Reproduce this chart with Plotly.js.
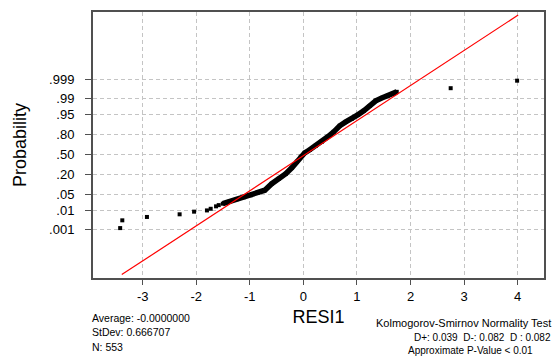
<!DOCTYPE html>
<html>
<head>
<meta charset="utf-8">
<script src="https://cdn.plot.ly/plotly-3.0.1.min.js"></script>
<style>
  html, body { margin: 0; padding: 0; background: #ffffff; }
  #chart { width: 560px; height: 356px; }
</style>
</head>
<body>
<div id="chart"></div>
<script>
// ---- Data ----
// isolated points in the tails (residual, cumulative probability)
const tailResid = [-3.42, -3.38, -2.92, -2.31, -2.04, -1.80, -1.73, -1.63, -1.58, 2.75, 3.99];
const tailProb  = [0.00114, 0.00317, 0.00480, 0.00657, 0.00889, 0.0102, 0.0122, 0.0158, 0.0179, 0.9970, 0.99889];

// dense body of the probability plot
const bodyResid = [-1.504, -1.373, -1.243, -1.112, -0.981, -0.851, -0.720, -0.590, -0.459, -0.328,
                   -0.216, -0.123, -0.049, 0.026, 0.119, 0.231, 0.343, 0.455, 0.567, 0.679,
                   0.791, 0.903, 1.015, 1.127, 1.239, 1.351, 1.463, 1.575, 1.668, 1.743];
const bodyProb  = [0.0207, 0.0264, 0.0319, 0.0382, 0.0456, 0.0565, 0.0692, 0.1126, 0.1572, 0.2121,
                   0.2909, 0.3813, 0.4621, 0.528, 0.577, 0.641, 0.700, 0.768, 0.826, 0.883,
                   0.912, 0.930, 0.950, 0.965, 0.978, 0.987, 0.9905, 0.9925, 0.9940, 0.9953];

// fitted normal reference line: residual endpoints and their normal scores
const lineResid = [-3.39, 4.01];
const lineScore = [-4.98, 5.78];

// probability axis ticks
const probTicks = [0.001, 0.01, 0.05, 0.20, 0.50, 0.80, 0.95, 0.99, 0.999];
const probTickText = ['.001', '.01', '.05', '.20', '.50', '.80', '.95', '.99', '.999'];
const xTicks = [-3, -2, -1, 0, 1, 2, 3, 4];

// summary texts
const statsLeft = ['Average: -0.0000000', 'StDev: 0.666707', 'N: 553'];
const ksTitle = 'Kolmogorov-Smirnov Normality Test';
const ksValues = 'D+: 0.039\u00A0\u00A0D-: 0.082\u00A0\u00A0D : 0.082';
const ksP = 'Approximate P-Value < 0.01';

// ---- normal probability scale (inverse normal CDF, Acklam) ----
function invNorm(p) {
  const a = [-3.969683028665376e+01, 2.209460984245205e+02, -2.759285104469687e+02,
             1.383577518672690e+02, -3.066479806614716e+01, 2.506628277459239e+00];
  const b = [-5.447609879822406e+01, 1.615858368580409e+02, -1.556989798598866e+02,
             6.680131188771972e+01, -1.328068155288572e+01];
  const c = [-7.784894002430293e-03, -3.223964580411365e-01, -2.400758277161838e+00,
             -2.549671010229583e+00, 4.374664141464968e+00, 2.938163982698783e+00];
  const d = [7.784695709041462e-03, 3.224671290700398e-01, 2.445134137142996e+00,
             3.754408661907416e+00];
  const pl = 0.02425, ph = 1 - pl;
  let q, r;
  if (p < pl) {
    q = Math.sqrt(-2 * Math.log(p));
    return (((((c[0]*q+c[1])*q+c[2])*q+c[3])*q+c[4])*q+c[5]) /
           ((((d[0]*q+d[1])*q+d[2])*q+d[3])*q+1);
  } else if (p <= ph) {
    q = p - 0.5; r = q * q;
    return (((((a[0]*r+a[1])*r+a[2])*r+a[3])*r+a[4])*r+a[5])*q /
           (((((b[0]*r+b[1])*r+b[2])*r+b[3])*r+b[4])*r+1);
  } else {
    q = Math.sqrt(-2 * Math.log(1 - p));
    return -(((((c[0]*q+c[1])*q+c[2])*q+c[3])*q+c[4])*q+c[5]) /
            ((((d[0]*q+d[1])*q+d[2])*q+d[3])*q+1);
  }
}

const font = 'Liberation Sans, Arial, sans-serif';

const traces = [
  {
    x: bodyResid, y: bodyProb.map(invNorm),
    mode: 'lines+markers', type: 'scatter',
    line: { color: '#000000', width: 5.5 },
    marker: { symbol: 'square', size: 4, color: '#000000' },
    hoverinfo: 'skip'
  },
  {
    x: tailResid, y: tailProb.map(invNorm),
    mode: 'markers', type: 'scatter',
    marker: { symbol: 'square', size: 4, color: '#000000' },
    hoverinfo: 'skip'
  },
  {
    x: lineResid, y: lineScore,
    mode: 'lines', type: 'scatter',
    line: { color: '#ff0000', width: 1.2 },
    hoverinfo: 'skip'
  }
];

function note(text, x, y, anchor, size) {
  return { text: text, xref: 'paper', yref: 'paper', x: x, y: y,
    xanchor: anchor, yanchor: 'middle', showarrow: false,
    font: { family: font, size: size, color: '#000000' } };
}
const annotations = [];
const leftY = [-0.152, -0.2045, -0.261];
statsLeft.forEach((t, i) => annotations.push(note(t, -0.007, leftY[i], 'left', 10.5)));
annotations.push(note(ksTitle, 1.02, -0.1707, 'right', 11));
annotations.push(note(ksValues, 1.02, -0.2233, 'right', 10));
annotations.push(note(ksP, 0.694, -0.274, 'left', 10));

const layout = {
  width: 560, height: 356,
  margin: { l: 93, r: 16, t: 12, b: 78, pad: 0 },
  paper_bgcolor: '#ffffff', plot_bgcolor: '#ffffff',
  showlegend: false,
  font: { family: font, color: '#000000' },
  xaxis: {
    range: [-3.927, 4.492], tickvals: xTicks, ticktext: xTicks.map(String),
    showgrid: true, gridcolor: '#c4c4c4', griddash: '4px,3px', gridwidth: 1,
    zeroline: false, showline: true, mirror: true, linecolor: '#505050', linewidth: 2,
    ticks: 'outside', ticklen: 5, tickcolor: '#505050', tickwidth: 1,
    tickfont: { family: font, size: 13, color: '#000000' },
    title: { text: 'RESI1', font: { family: font, size: 18, color: '#000000' }, standoff: 8 }
  },
  yaxis: {
    range: [-5.12, 5.906], tickvals: probTicks.map(invNorm), ticktext: probTickText,
    showgrid: true, gridcolor: '#c4c4c4', griddash: '4px,3px', gridwidth: 1,
    zeroline: false, showline: true, mirror: true, linecolor: '#505050', linewidth: 2,
    ticks: 'outside', ticklen: 6, tickcolor: '#505050', tickwidth: 1,
    ticklabelstandoff: 8,
    tickfont: { family: font, size: 13, color: '#000000' },
    title: { text: 'Probability', font: { family: font, size: 18, color: '#000000' }, standoff: 18 }
  },
  annotations: annotations
};

Plotly.newPlot('chart', traces, layout, { staticPlot: true, displayModeBar: false });
</script>
</body>
</html>
